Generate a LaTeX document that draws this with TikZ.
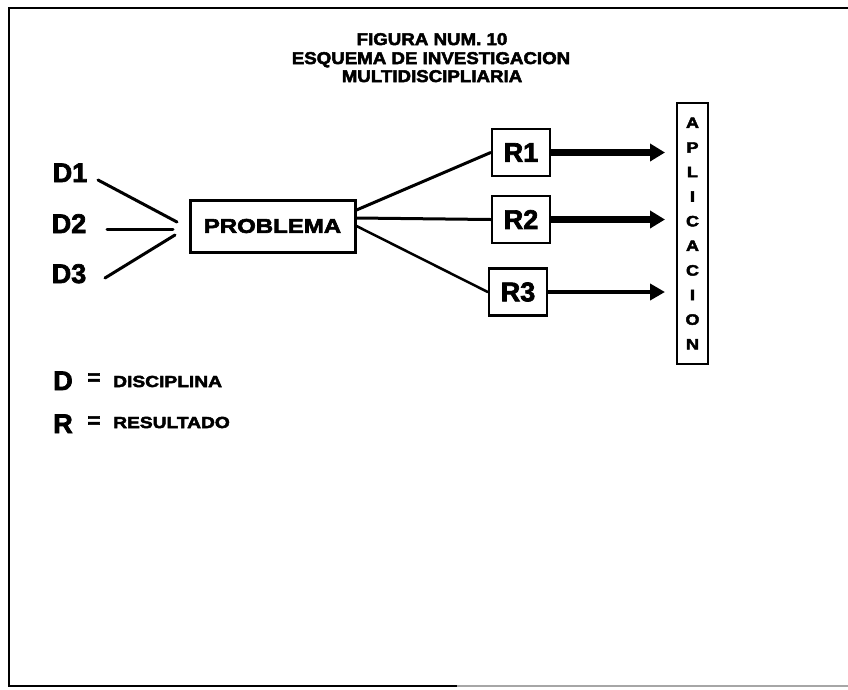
\documentclass[tikz,border=0pt]{standalone}
\usepackage{fontspec}
\setmainfont{Liberation Sans}[FakeBold=2.5]
\newfontfamily\hvtitle{Liberation Sans}[FakeStretch=1.1,FakeBold=3]
\newfontfamily\hvwide{Liberation Sans}[FakeStretch=1.2,FakeBold=3]
\usetikzlibrary{arrows.meta,calc}

\tikzset{
  frameline/.style={line width=2pt},
  titletxt/.style={font=\hvtitle\fontsize{17}{18}\selectfont\bfseries, inner sep=0pt, anchor=base},
  biglabel/.style={font=\fontsize{27}{27}\selectfont\bfseries, inner sep=0pt, anchor=base},
  legtxt/.style={font=\hvwide\fontsize{16}{16}\selectfont\bfseries, inner sep=0pt, anchor=base west},
  eqsign/.style={font=\fontsize{22}{22}\selectfont\bfseries, inner sep=0pt},
  probbox/.style={draw, line width=3pt, minimum width=165pt, minimum height=52pt, inner sep=0pt,
    font=\hvwide\fontsize{20}{20}\selectfont\bfseries},
  rbox/.style={draw, line width=2.5pt, minimum width=58pt, minimum height=47pt, inner sep=0pt,
    font=\fontsize{27}{27}\selectfont\bfseries},
  aplbox/.style={draw, line width=2pt, minimum width=31pt, minimum height=261pt, inner sep=0pt,
    align=center, font=\hvwide\fontsize{15}{24.6}\selectfont\bfseries},
  link/.style={line width=3pt, line cap=round},
  thinlink/.style={line width=2.5pt, line cap=round},
  bigarrow/.style={line width=6.5pt, -{Triangle[length=15pt,width=17pt]}},
  smallarrow/.style={line width=4.5pt, -{Triangle[length=15pt,width=16pt]}},
}

\begin{document}
\begin{tikzpicture}[x=1pt,y=-1pt]
  \useasboundingbox (0,0) rectangle (848,689);

  % page frame (open on the right)
  \draw[frameline] (848,8) -- (9,8) -- (9,686) -- (457,686);
  \draw[line width=1.5pt, black!35] (457,686) -- (848,686);

  % heading
  \node[titletxt] (t1) at (432,45) {FIGURA NUM. 10};
  \node[titletxt] (t2) at (431,64) {ESQUEMA DE INVESTIGACION};
  \node[titletxt] (t3) at (432,82) {MULTIDISCIPLIARIA};

  % disciplines
  \node[biglabel] (d1) at (70,182) {D1};
  \node[biglabel] (d2) at (69,233) {D2};
  \node[biglabel] (d3) at (69,283) {D3};

  % problem box
  \node[probbox] (prob) at (272.5,226) {PROBLEMA};

  % results
  \node[rbox] (r1) at (521,152.5) {R1};
  \node[rbox] (r2) at (521,219.5) {R2};
  \node[rbox] (r3) at (518,292) {R3};

  % application column
  \node[aplbox] (apl) at (692.5,233.5) {A\\P\\L\\I\\C\\A\\C\\I\\O\\N};

  % converging lines from the disciplines
  \coordinate (d1tail) at (98,180);
  \coordinate (d2tail) at (107,229);
  \coordinate (d3tail) at (105,278);
  \coordinate (j1) at (177,222);
  \coordinate (j2) at (173,229);
  \coordinate (j3) at (175,235);
  \draw[link] (d1tail) -- (j1);
  \draw[link] (d2tail) -- (j2);
  \draw[link] (d3tail) -- (j3);

  % lines from the problem to the results
  \draw[link] ($(prob.east)+(0,-16)$) -- (r1.west);
  \draw[link] ($(prob.east)+(0,-8)$) -- (r2.west);
  \draw[thinlink] (prob.east) -- (r3.west);

  % arrows towards the application
  \coordinate (tipx) at (665,0);
  \draw[bigarrow] (r1.east) -- (r1.east -| tipx);
  \draw[bigarrow] (r2.east) -- (r2.east -| tipx);
  \draw[smallarrow] (r3.east) -- (r3.east -| tipx);

  % legend
  \node[biglabel] (ld) at (63,390) {D};
  \node[eqsign] (leqd) at (94,379) {=};
  \node[legtxt] (ldt) at (113,387) {DISCIPLINA};
  \node[biglabel] (lr) at (63,433) {R};
  \node[eqsign] (leqr) at (94,422) {=};
  \node[legtxt] (lrt) at (113,428) {RESULTADO};
\end{tikzpicture}
\end{document}
